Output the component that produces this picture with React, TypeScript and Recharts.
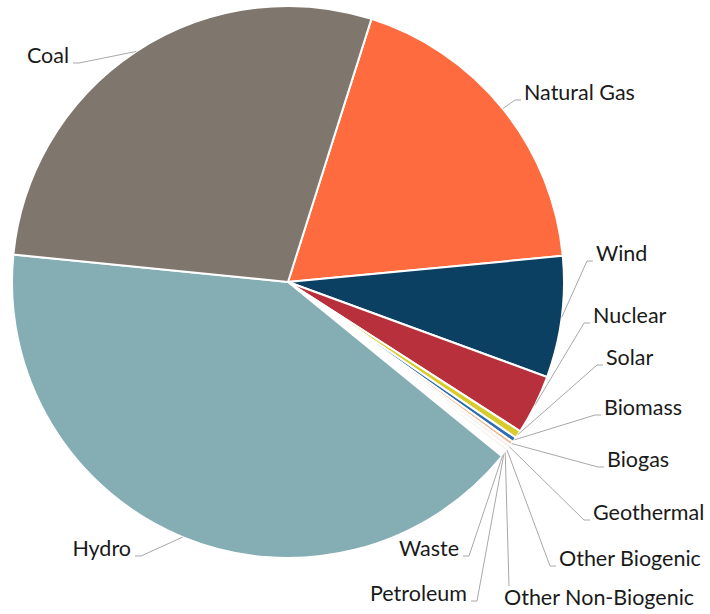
import { PieChart, Pie, Cell } from "recharts";

// share of generation, percent (clockwise from the Natural Gas slice)
const sources = [
  "Natural Gas",
  "Wind",
  "Nuclear",
  "Solar",
  "Biomass",
  "Biogas",
  "Geothermal",
  "Other Biogenic",
  "Other Non-Biogenic",
  "Petroleum",
  "Waste",
  "Hydro",
  "Coal",
];
const shares = [18.6, 7.1, 3.5, 0.45, 0.3, 0.22, 0.24, 0.22, 0.12, 0.12, 0.12, 40.7, 28.3];
const colors = [
  "#fe6b3e",
  "#0b4063",
  "#b8303b",
  "#d8cc2c",
  "#2d6cb0",
  "#f2b38c",
  "#f7f1ec",
  "#f7f4ef",
  "#f6f6f4",
  "#f5f2ef",
  "#f4f1ee",
  "#84aeb4",
  "#7f766d",
];

const data = sources.map((name, i) => ({ name, value: shares[i] }));

// where each label sits (baseline), and which side the leader line comes in from
const labelPos: Record<string, { x: number; y: number; anchor: "start" | "end"; lx?: number; ly?: number }> = {
  Coal: { x: 69, y: 63, anchor: "end" },
  "Natural Gas": { x: 524, y: 100, anchor: "start" },
  Wind: { x: 596, y: 261, anchor: "start" },
  Nuclear: { x: 593, y: 323, anchor: "start" },
  Solar: { x: 606, y: 365, anchor: "start" },
  Biomass: { x: 604, y: 415, anchor: "start" },
  Biogas: { x: 607, y: 467, anchor: "start" },
  Geothermal: { x: 593, y: 520, anchor: "start" },
  "Other Biogenic": { x: 559, y: 566, anchor: "start" },
  "Other Non-Biogenic": { x: 504, y: 605, anchor: "start", lx: 509, ly: 586 },
  Petroleum: { x: 467, y: 601, anchor: "end" },
  Waste: { x: 459, y: 556, anchor: "end" },
  Hydro: { x: 131, y: 556, anchor: "end" },
};

const RAD = Math.PI / 180;

function renderLabel(props: any) {
  const { cx, cy, midAngle, outerRadius, name } = props;
  const pos = labelPos[name];
  if (!pos) return null;
  const sx = cx + outerRadius * Math.cos(-midAngle * RAD);
  const sy = cy + outerRadius * Math.sin(-midAngle * RAD);
  let d: string;
  if (pos.lx !== undefined) {
    d = `M${sx},${sy}L${pos.lx},${pos.ly}`;
  } else if (pos.anchor === "start") {
    d = `M${sx},${sy}L${pos.x - 9},${pos.y}L${pos.x - 3},${pos.y}`;
  } else {
    d = `M${sx},${sy}L${pos.x + 10},${pos.y}L${pos.x + 4},${pos.y}`;
  }
  return (
    <g key={name}>
      <path d={d} stroke="#a8a8a8" strokeWidth={1} fill="none" />
      <text
        x={pos.x}
        y={pos.y}
        textAnchor={pos.anchor}
        fontFamily="Lato, sans-serif"
        fontSize={21.5}
        fill="#1a1a1a"
      >
        {name}
      </text>
    </g>
  );
}

export default function App() {
  return (
    <div style={{ width: 710, height: 614, background: "#fff" }}>
      <style>{`body{margin:0}`}</style>
      <PieChart width={710} height={614} margin={{ top: 0, right: 0, bottom: 0, left: 0 }}>
        <Pie
          data={data}
          dataKey="value"
          nameKey="name"
          cx={288}
          cy={282}
          outerRadius={276}
          startAngle={72.4}
          endAngle={-287.6}
          stroke="#ffffff"
          strokeWidth={2}
          label={renderLabel}
          labelLine={false}
          isAnimationActive={false}
        >
          {data.map((d, i) => (
            <Cell key={d.name} fill={colors[i]} />
          ))}
        </Pie>
      </PieChart>
    </div>
  );
}
